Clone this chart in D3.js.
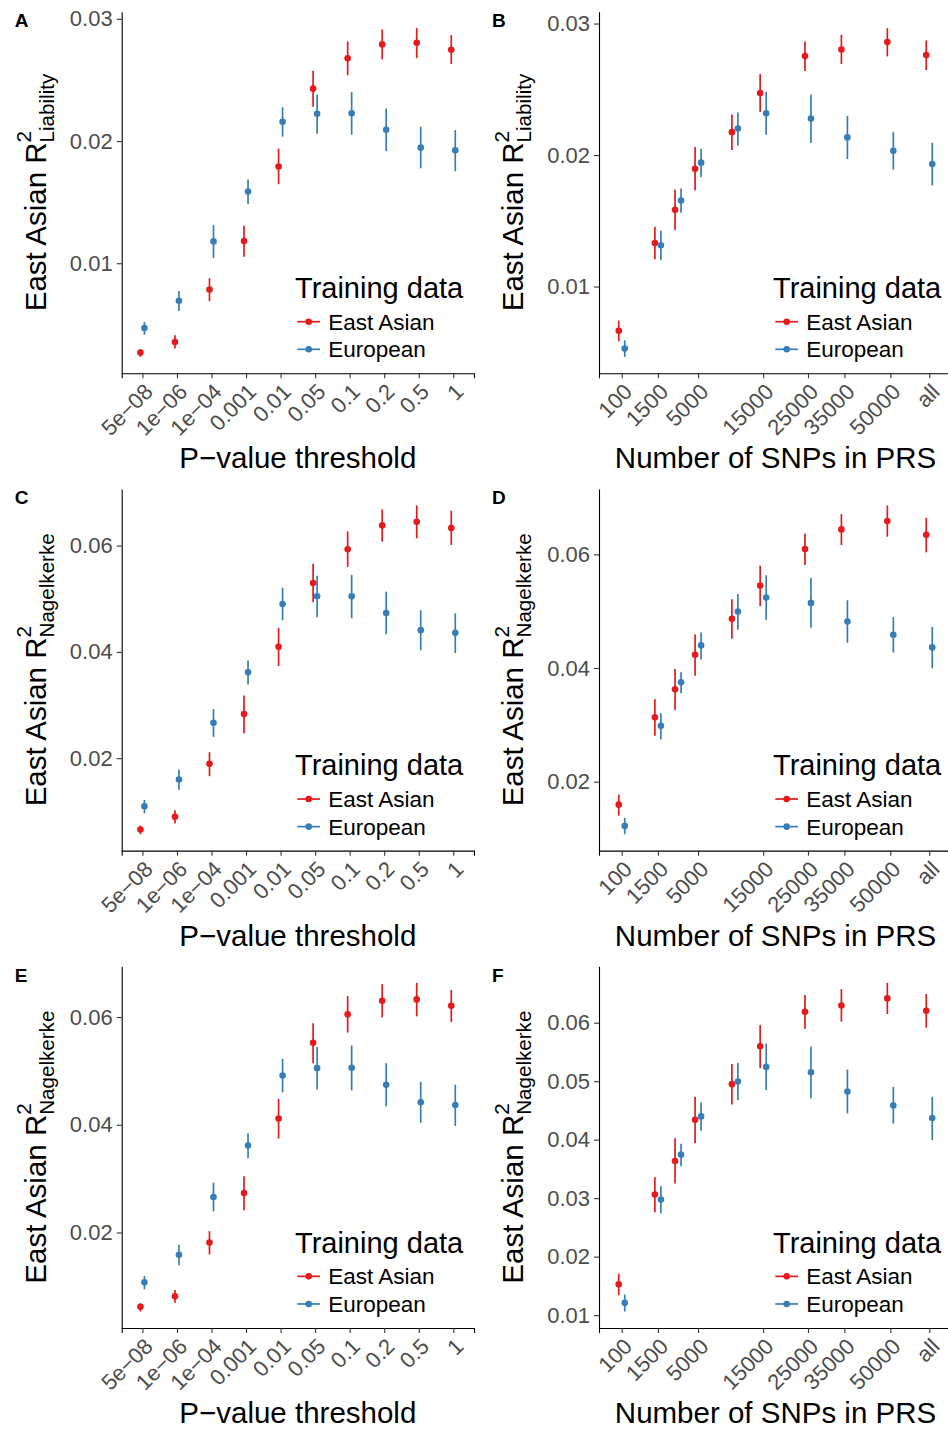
<!DOCTYPE html>
<html><head><meta charset="utf-8">
<script src="https://cdn.jsdelivr.net/npm/d3@7"></script>
<style>
html,body{margin:0;padding:0;background:#fff;overflow:hidden}
svg{display:block;font-family:"Liberation Sans",Arial,Helvetica,sans-serif}
</style>
</head><body>
<svg id="chart" width="948" height="1432"></svg>
<script>
// ---------- categories / ticks ----------
const pThresholds = ["5e-08","1e-06","1e-04","0.001","0.01","0.05","0.1","0.2","0.5","1"];
const pLabels = ["5e−08","1e−06","1e−04","0.001","0.01","0.05","0.1","0.2","0.5","1"];
const snpCounts = [100,1500,3000,5000,10000,15000,25000,35000,50000,64800];
const snpTickValues = [100,1500,5000,15000,25000,35000,50000,64800];
const snpTickLabels = ["100","1500","5000","15000","25000","35000","50000","all"];
const groups = ["East Asian","European"];
const yTicksAB = [0.01,0.02,0.03];
const yTicksCDE = [0.02,0.04,0.06];
const yTicksF = [0.01,0.02,0.03,0.04,0.05,0.06];

// ---------- panel A (liability R2, p-value threshold) ----------
const easA   = [0.00269,0.00356,0.00785,0.01182,0.01791,0.02429,0.02677,0.02791,0.02804,0.02747];
const easALo = [0.00234,0.00302,0.0069,0.01054,0.01647,0.0228,0.02538,0.02668,0.02679,0.0263];
const easAHi = [0.00296,0.0041,0.00878,0.01307,0.01937,0.02576,0.02815,0.02913,0.02924,0.02867];
const eurA   = [0.0047,0.00693,0.01179,0.01587,0.02158,0.02223,0.02228,0.02092,0.01946,0.01924];
const eurALo = [0.00416,0.00609,0.01043,0.01484,0.02035,0.0206,0.02052,0.01918,0.01777,0.01753];
const eurAHi = [0.00519,0.00772,0.01312,0.01685,0.02277,0.0238,0.02402,0.02266,0.02117,0.0209];

// ---------- panel B (liability R2, number of SNPs) ----------
const easB   = [0.00664,0.01331,0.01583,0.01896,0.02174,0.02472,0.02753,0.02803,0.02859,0.0276];
const easBLo = [0.00583,0.01207,0.01429,0.01732,0.02038,0.02326,0.02639,0.02692,0.0275,0.02646];
const easBHi = [0.0074,0.01452,0.01737,0.02061,0.02308,0.02616,0.02864,0.02914,0.02965,0.02871];
const eurB   = [0.00528,0.01313,0.01654,0.01942,0.02202,0.02318,0.02278,0.02134,0.02033,0.01932];
const eurBLo = [0.00465,0.01202,0.01561,0.01833,0.02073,0.02154,0.02091,0.0197,0.01889,0.01768];
const eurBHi = [0.00591,0.01424,0.01745,0.02048,0.02323,0.02482,0.0246,0.02298,0.02174,0.02093];

// ---------- panel C (Nagelkerke, p-value) ----------
const easC   = [0.00658,0.00896,0.01894,0.0283,0.04097,0.05295,0.05931,0.0638,0.0645,0.0633];
const easCLo = [0.0057,0.0077,0.01662,0.02468,0.03735,0.04933,0.056,0.06075,0.06137,0.06012];
const easCHi = [0.00733,0.0102,0.02112,0.0318,0.04452,0.05657,0.06268,0.0668,0.06755,0.06655];
const eurC   = [0.01095,0.016,0.02668,0.03616,0.04902,0.05045,0.05045,0.04733,0.04409,0.04359];
const eurCLo = [0.00964,0.01407,0.024,0.03385,0.04596,0.04652,0.04633,0.04334,0.04028,0.03978];
const eurCHi = [0.01214,0.01788,0.02924,0.0384,0.05207,0.05432,0.0545,0.05133,0.04783,0.04727];

// ---------- panel D (Nagelkerke, number of SNPs) ----------
const easD   = [0.01596,0.03135,0.03626,0.04234,0.04865,0.0545,0.06094,0.06439,0.06585,0.06345];
const easDLo = [0.01404,0.02807,0.03263,0.03865,0.04515,0.05088,0.05813,0.06164,0.0631,0.06035];
const easDHi = [0.01772,0.0345,0.03982,0.0459,0.0521,0.05801,0.06368,0.06708,0.0686,0.06643];
const eurD   = [0.01222,0.02982,0.03749,0.04398,0.04994,0.0524,0.05146,0.04819,0.04585,0.04363];
const eurDLo = [0.01076,0.02748,0.03556,0.04152,0.04673,0.04848,0.04708,0.04444,0.0427,0.03994];
const eurDHi = [0.01362,0.03205,0.03924,0.04626,0.05304,0.05632,0.05585,0.05193,0.04895,0.04725];

// ---------- panel E (Nagelkerke, p-value) ----------
const easE   = [0.0062,0.00816,0.01815,0.02733,0.04114,0.0552,0.06049,0.06302,0.06327,0.0621];
const easELo = [0.00533,0.00694,0.01593,0.02413,0.03744,0.05143,0.0571,0.05994,0.06012,0.05908];
const easEHi = [0.00687,0.00934,0.02025,0.03042,0.04478,0.05883,0.06388,0.0661,0.06635,0.06505];
const eurE   = [0.01075,0.01587,0.0266,0.03615,0.04915,0.05051,0.05057,0.04743,0.04416,0.04367];
const eurELo = [0.00946,0.0139,0.02394,0.0338,0.04601,0.04656,0.04638,0.04342,0.04034,0.03978];
const eurEHi = [0.01193,0.01772,0.02924,0.03843,0.05223,0.05445,0.0547,0.05143,0.04798,0.04743];

// ---------- panel F (Nagelkerke, number of SNPs) ----------
const easF   = [0.01528,0.03062,0.03636,0.04341,0.04949,0.05597,0.06188,0.06295,0.06415,0.06205];
const easFLo = [0.01341,0.02761,0.0325,0.03937,0.04602,0.05222,0.05898,0.06017,0.06148,0.05915];
const easFHi = [0.0171,0.03358,0.04023,0.04733,0.05295,0.0596,0.06472,0.06574,0.06682,0.06489];
const eurF   = [0.0121,0.02977,0.03744,0.04398,0.04994,0.05244,0.05153,0.04824,0.04585,0.04369];
const eurFLo = [0.01062,0.02744,0.03545,0.04153,0.04676,0.04847,0.04705,0.04449,0.04273,0.03994];
const eurFHi = [0.01352,0.03205,0.03932,0.04636,0.05312,0.05642,0.05591,0.05199,0.04903,0.04733];

// ---------- panel table built from the arrays ----------
const panels = [
  {label:"A", kind:"p",   sub:"Liability",  yTicks:yTicksAB,  series:[[easA,easALo,easAHi],[eurA,eurALo,eurAHi]]},
  {label:"B", kind:"snp", sub:"Liability",  yTicks:yTicksAB,  series:[[easB,easBLo,easBHi],[eurB,eurBLo,eurBHi]]},
  {label:"C", kind:"p",   sub:"Nagelkerke", yTicks:yTicksCDE, series:[[easC,easCLo,easCHi],[eurC,eurCLo,eurCHi]]},
  {label:"D", kind:"snp", sub:"Nagelkerke", yTicks:yTicksCDE, series:[[easD,easDLo,easDHi],[eurD,eurDLo,eurDHi]]},
  {label:"E", kind:"p",   sub:"Nagelkerke", yTicks:yTicksCDE, series:[[easE,easELo,easEHi],[eurE,eurELo,eurEHi]]},
  {label:"F", kind:"snp", sub:"Nagelkerke", yTicks:yTicksF,   series:[[easF,easFLo,easFHi],[eurF,eurFLo,eurFHi]]}
];

// ---------- styling ----------
const colors = d3.scaleOrdinal().domain(groups).range(["#E41A1C","#377EB8"]);
const ROW_H = 1432/3;
const TICK_FONT = 22, TITLE_FONT = 29.5, LEG_FONT = 22.5, SUB_FONT = 20.6;
const svg = d3.select("#chart");

function styleAxis(ax){
  ax.select(".domain").attr("stroke","#000").attr("stroke-width",1.1);
  ax.selectAll(".tick line").attr("stroke","#333").attr("stroke-width",1.1);
  ax.selectAll(".tick text").attr("fill","#4D4D4D").attr("font-size",TICK_FONT)
    .attr("font-family",'"Liberation Sans",Arial,sans-serif');
}

panels.forEach((p,i)=>{
  const col = i%2, row = Math.floor(i/2);
  const rowTop = row*ROW_H;
  const left = col ? 599 : 121.7, right = col ? 952 : 474;
  const top = rowTop + 11.7, bottom = rowTop + 373.3;
  const g = svg.append("g");

  // x scale
  let x, xKeys, dodge, xAxis;
  if (p.kind === "p") {
    x = d3.scalePoint().domain(pThresholds).range([left,right]).padding(0.6);
    xKeys = pThresholds; dodge = 2;
    xAxis = d3.axisBottom(x).tickSizeOuter(0).tickSize(5).tickFormat((d,k)=>pLabels[k]);
  } else {
    const s = snpCounts.map(Math.sqrt);
    const s0 = d3.min(s), s1 = d3.max(s), pad = (s1-s0)*0.074;
    const a = s0-pad, b = s1+pad;
    x = d3.scaleSqrt().domain([Math.sign(a)*a*a, b*b]).range([left,right]);
    xKeys = snpCounts; dodge = 3;
    xAxis = d3.axisBottom(x).tickValues(snpTickValues).tickSizeOuter(0).tickSize(5)
      .tickFormat((d,k)=>snpTickLabels[k]);
  }

  // y scale with 5% expansion of data range
  const all = p.series.flatMap(s=>s[1].concat(s[2]));
  const lo = d3.min(all), hi = d3.max(all), yp = (hi-lo)*0.05;
  const y = d3.scaleLinear().domain([lo-yp, hi+yp]).range([bottom, top]);

  // axes
  const gx = g.append("g").attr("transform",`translate(0,${bottom})`).call(xAxis);
  styleAxis(gx);
  gx.selectAll(".tick text")
    .attr("x",0).attr("y",0).attr("dy","0.72em")
    .attr("text-anchor","end")
    .attr("transform","translate(0,8.7) rotate(-45)");

  const gy = g.append("g").attr("transform",`translate(${left},0)`)
    .call(d3.axisLeft(y).tickValues(p.yTicks).tickFormat(d3.format(".2f")).tickSize(5).tickPadding(4).tickSizeOuter(0));
  styleAxis(gy);

  // error bars
  p.series.forEach((s,si)=>{
    const off = si===0 ? -dodge : dodge;
    g.append("g").selectAll("line").data(xKeys).join("line")
      .attr("x1",(d)=>x(d)+off).attr("x2",(d)=>x(d)+off)
      .attr("y1",(d,k)=>y(s[1][k])).attr("y2",(d,k)=>y(s[2][k]))
      .attr("stroke",colors(groups[si])).attr("stroke-width",1.7);
  });
  // points
  p.series.forEach((s,si)=>{
    const off = si===0 ? -dodge : dodge;
    g.append("g").selectAll("circle").data(xKeys).join("circle")
      .attr("cx",(d)=>x(d)+off).attr("cy",(d,k)=>y(s[0][k]))
      .attr("r",3.3).attr("fill",colors(groups[si]));
  });

  // panel letter
  g.append("text").attr("x",left-107).attr("y",rowTop+27)
    .attr("font-weight","bold").attr("font-size",19).attr("fill","#000").text(p.label);

  // x title
  g.append("text").attr("x",(left+right)/2).attr("y",rowTop+468.3)
    .attr("text-anchor","middle").attr("font-size",TITLE_FONT).attr("fill","#000")
    .text(p.kind==="p" ? "P−value threshold" : "Number of SNPs in PRS");

  // y title: East Asian R^2_sub
  const yt = g.append("g").attr("transform",`translate(${left-76},${(top+bottom)/2}) rotate(-90)`);
  const t1 = yt.append("text").attr("font-size",TITLE_FONT).attr("fill","#000").text("East Asian R");
  const w1 = t1.node().getComputedTextLength();
  const t2 = yt.append("text").attr("font-size",SUB_FONT).attr("fill","#000").attr("y",-14.3).text("2");
  const t3 = yt.append("text").attr("font-size",SUB_FONT).attr("fill","#000").attr("y",8).text(p.sub);
  const w2 = t2.node().getComputedTextLength(), w3 = t3.node().getComputedTextLength();
  const total = w1 + Math.max(w2,w3), x0 = -total/2;
  t1.attr("x",x0); t2.attr("x",x0+w1); t3.attr("x",x0+w1);

  // legend
  const lg = g.append("g");
  lg.append("text").attr("x",right-179).attr("y",rowTop+298)
    .attr("font-size",TITLE_FONT-0.5).attr("fill","#000").text("Training data");
  groups.forEach((gn,gi)=>{
    const cy = rowTop + (gi===0 ? 321.7 : 349.3);
    lg.append("line").attr("x1",right-176.7).attr("x2",right-154).attr("y1",cy).attr("y2",cy)
      .attr("stroke",colors(gn)).attr("stroke-width",1.7);
    lg.append("circle").attr("cx",right-165.3).attr("cy",cy).attr("r",3.3).attr("fill",colors(gn));
    lg.append("text").attr("x",right-145.7).attr("y",cy).attr("dy","0.36em")
      .attr("font-size",LEG_FONT).attr("fill","#000").text(gn);
  });
});
</script>
</body></html>
